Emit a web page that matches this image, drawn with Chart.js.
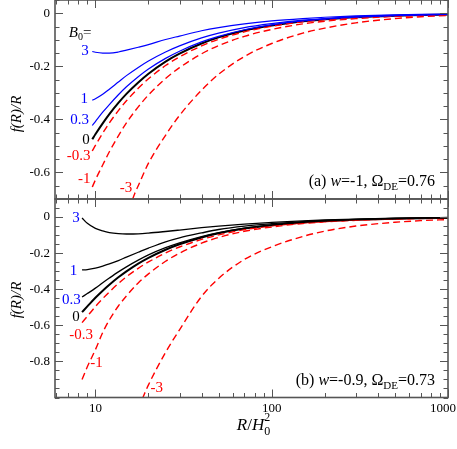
<!DOCTYPE html>
<html><head><meta charset="utf-8">
<script src="https://cdn.jsdelivr.net/npm/chart.js@4.4.1/dist/chart.umd.min.js"></script>
<style>
html,body{margin:0;padding:0;background:#fff;}
#wrap{position:relative;width:457px;height:449px;}
canvas{position:absolute;left:0;top:0;}
</style></head><body>
<div id="wrap"><canvas id="ca" width="457" height="449"></canvas><canvas id="cb" width="457" height="449"></canvas></div>
<script>
// ---------- data: panel (a) w=-1, Omega_DE=0.76 ----------
const rA = [9.6, 10, 11, 12, 13.5, 15, 17.5, 20, 25, 30, 40, 50, 70, 100, 150, 200, 300, 500, 700, 1000];
const aB3   = [-0.144,-0.147,-0.150,-0.150,-0.146,-0.139,-0.128,-0.118,-0.099,-0.086,-0.066,-0.054,-0.040,-0.029,-0.020,-0.015,-0.010,-0.0062,-0.0045,-0.0032];
const aB1   = [-0.328,-0.322,-0.305,-0.286,-0.259,-0.235,-0.204,-0.180,-0.146,-0.123,-0.093,-0.075,-0.054,-0.039,-0.026,-0.020,-0.013,-0.008,-0.0058,-0.0041];
const aB03  = [-0.423,-0.408,-0.373,-0.344,-0.307,-0.277,-0.239,-0.210,-0.170,-0.143,-0.108,-0.087,-0.062,-0.044,-0.029,-0.022,-0.0145,-0.0087,-0.0063,-0.0044];
const aB0   = [-0.475,-0.456,-0.415,-0.380,-0.338,-0.304,-0.261,-0.228,-0.182,-0.152,-0.114,-0.091,-0.065,-0.046,-0.030,-0.023,-0.015,-0.009,-0.0065,-0.0046];
const aBm03 = [-0.519,-0.498,-0.452,-0.413,-0.367,-0.330,-0.283,-0.247,-0.197,-0.164,-0.123,-0.098,-0.070,-0.049,-0.032,-0.024,-0.016,-0.0096,-0.0069,-0.0048];
const aBm1  = [-0.655,-0.628,-0.572,-0.522,-0.462,-0.413,-0.353,-0.308,-0.246,-0.205,-0.153,-0.122,-0.087,-0.061,-0.040,-0.030,-0.020,-0.012,-0.0085,-0.0060];
const rA3 = [15.5, 16.7, 17.5, 20, 25, 30, 40, 50, 70, 100, 150, 200, 300, 500, 700, 1000];
const aBm3  = [-0.74,-0.68,-0.65,-0.565,-0.46,-0.385,-0.29,-0.23,-0.163,-0.114,-0.075,-0.056,-0.036,-0.020,-0.013,-0.008];

// ---------- data: panel (b) w=-0.9, Omega_DE=0.73 ----------
const rB = [8.4, 9, 10, 11, 12, 13.5, 15, 17.5, 20, 25, 30, 40, 50, 70, 100, 150, 200, 300, 500, 700, 1000];
const bB3   = [-0.005,-0.035,-0.063,-0.077,-0.086,-0.092,-0.094,-0.093,-0.089,-0.080,-0.072,-0.059,-0.050,-0.039,-0.030,-0.021,-0.016,-0.011,-0.0065,-0.0045,-0.003];
const bB1   = [-0.293,-0.291,-0.283,-0.272,-0.260,-0.241,-0.222,-0.195,-0.172,-0.137,-0.115,-0.088,-0.069,-0.050,-0.037,-0.025,-0.019,-0.013,-0.008,-0.0057,-0.004];
const bB03  = [-0.443,-0.424,-0.394,-0.364,-0.338,-0.304,-0.276,-0.239,-0.210,-0.170,-0.143,-0.108,-0.087,-0.062,-0.044,-0.029,-0.022,-0.0145,-0.0087,-0.0062,-0.0044];
const bB0   = [-0.527,-0.495,-0.447,-0.408,-0.375,-0.334,-0.301,-0.258,-0.226,-0.181,-0.151,-0.113,-0.090,-0.064,-0.045,-0.030,-0.0225,-0.015,-0.009,-0.0064,-0.0045];
const bBm03 = [-0.585,-0.550,-0.496,-0.452,-0.415,-0.368,-0.331,-0.284,-0.249,-0.199,-0.166,-0.124,-0.099,-0.070,-0.049,-0.033,-0.025,-0.0165,-0.010,-0.007,-0.005];
const bBm1  = [-0.900,-0.830,-0.735,-0.640,-0.570,-0.493,-0.437,-0.365,-0.315,-0.245,-0.200,-0.145,-0.113,-0.079,-0.055,-0.036,-0.027,-0.018,-0.011,-0.0077,-0.0054];
const rB3 = [17.5, 18.6, 20, 25, 30, 40, 50, 70, 100, 150, 200, 300, 500, 700, 1000];
const bBm3  = [-1.065,-1.0,-0.93,-0.75,-0.625,-0.44,-0.34,-0.235,-0.165,-0.108,-0.078,-0.050,-0.029,-0.020,-0.014];

// ---------- ticks ----------
const xTickLabels = [10, 100, 1000];
const xMinorTicks = [6,7,8,9,20,30,40,50,60,70,80,90,200,300,400,500,600,700,800,900];
const yTicksA = [0, -0.2, -0.4, -0.6];
const yTicksB = [0, -0.2, -0.4, -0.6, -0.8];

// ---------- curve annotations (B0 values) ----------
const curveLabels = ['3', '1', '0.3', '0', '-0.3', '-1', '-3'];
const labRA = [9.16, 9.08, 9.2, 9.28, 9.37, 9.37, 16.2];
const labVA = [-0.144, -0.325, -0.403, -0.478, -0.538, -0.625, -0.659];
const labRB = [8.15, 7.9, 8.25, 8.15, 9.69, 11.0, 24.2];
const labVB = [-0.006, -0.297, -0.46, -0.552, -0.654, -0.81, -0.95];

const BLUE = '#0000ff', RED = '#ff0000', BLACK = '#000000', FRAME = '#555555';
const labColors = [BLUE, BLUE, BLUE, BLACK, RED, RED, RED];
const SERIF = '"Liberation Serif", "Times New Roman", serif';

function pts(rs, vs) { return rs.map((r, i) => ({x: r, y: vs[i]})); }
function ds(rs, vs, color, width, dashed) {
  return { data: pts(rs, vs), borderColor: color, borderWidth: width, borderDash: dashed ? [7, 4] : [],
           pointRadius: 0, fill: false, cubicInterpolationMode: 'monotone' };
}

// parts drawn left to right; a part with overlay:true is drawn at the start x of the previous part
function drawRich(ctx, parts, x, y, align) {
  let w = 0;
  parts.forEach(p => { ctx.font = p.font; p.w = ctx.measureText(p.t).width; if (!p.overlay) w += p.w; });
  let cx = align === 'right' ? x - w : (align === 'center' ? x - w / 2 : x);
  let prevX = cx;
  parts.forEach(p => {
    ctx.font = p.font; ctx.fillStyle = p.color || BLACK;
    if (p.overlay) {
      ctx.fillText(p.t, prevX, y + (p.dy || 0));
    } else {
      ctx.fillText(p.t, cx, y + (p.dy || 0));
      prevX = cx; cx += p.w;
    }
  });
}

function makePlugin(cfg) {
  return {
    id: 'deco' + cfg.id,
    afterDraw(chart) {
      const ctx = chart.ctx, a = chart.chartArea, xs = chart.scales.x, ys = chart.scales.y;
      ctx.save();
      ctx.strokeStyle = FRAME; ctx.lineWidth = 1;
      const line = (x1, y1, x2, y2) => { ctx.beginPath(); ctx.moveTo(x1, y1); ctx.lineTo(x2, y2); ctx.stroke(); };
      const XM = 8, XN = 4.5;
      xTickLabels.forEach(v => { const p = Math.round(xs.getPixelForValue(v)) + 0.5; line(p, a.top, p, a.top + XM); line(p, a.bottom, p, a.bottom - XM); });
      xMinorTicks.forEach(v => { const p = Math.round(xs.getPixelForValue(v)) + 0.5; line(p, a.top, p, a.top + XN); line(p, a.bottom, p, a.bottom - XN); });
      const yMaj = cfg.yTicks;
      for (let k = 0; k <= 40; k++) {
        const v = Math.round((cfg.ymax - k * 0.05) * 100) / 100;
        if (v < cfg.ymin - 1e-9) break;
        const p = Math.round(ys.getPixelForValue(v)) + 0.5;
        const isMaj = yMaj.some(m => Math.abs(m - v) < 1e-9);
        const L = isMaj ? XM : XN;
        line(a.left, p, a.left + L, p); line(a.right, p, a.right - L, p);
      }
      ctx.lineWidth = 1.6;
      ctx.strokeRect(a.left, a.top, a.right - a.left, a.bottom - a.top);

      ctx.textBaseline = 'middle';
      const F15 = '15px ' + SERIF;
      curveLabels.forEach((t, i) => {
        const px = xs.getPixelForValue(cfg.labR[i]), py = ys.getPixelForValue(cfg.labV[i]);
        drawRich(ctx, [{t: t, font: F15, color: labColors[i]}], px, py, 'right');
      });
      if (cfg.id === 'a') {
        drawRich(ctx, [{t: 'B', font: 'italic 15px ' + SERIF}, {t: '0', font: '10px ' + SERIF, dy: 4}, {t: '=', font: F15}],
                 xs.getPixelForValue(9.49), ys.getPixelForValue(-0.074), 'right');
      }
      // y title
      ctx.save();
      ctx.translate(17.5, cfg.yTitleY); ctx.rotate(-Math.PI / 2);
      ctx.textAlign = 'center'; ctx.fillStyle = BLACK; ctx.font = 'italic 15px ' + SERIF;
      ctx.fillText('f(R)/R', 0, 0);
      ctx.restore();
      // panel legend
      ctx.textBaseline = 'alphabetic';
      const F16 = '16px ' + SERIF;
      drawRich(ctx, [{t: cfg.tag + ' ', font: F16}, {t: 'w', font: 'italic 16px ' + SERIF}, {t: '=' + cfg.w + ', \u03A9', font: F16},
                     {t: 'DE', font: '11px ' + SERIF, dy: 4}, {t: '=' + cfg.om, font: F16}], 435, a.bottom - 13, 'right');
      if (cfg.id === 'b') {
        ctx.textBaseline = 'middle';
        ctx.font = '13px ' + SERIF; ctx.fillStyle = BLACK;
        xTickLabels.forEach(v => {
          const t = String(v); const w = ctx.measureText(t).width;
          let cx = xs.getPixelForValue(v);
          cx = Math.min(cx, chart.width - 1 - w / 2);
          ctx.textAlign = 'center'; ctx.fillText(t, cx, a.bottom + 11);
        });
        ctx.textAlign = 'left'; ctx.textBaseline = 'alphabetic';
        const cxm = (a.left + a.right) / 2;
        drawRich(ctx, [{t: 'R', font: 'italic 17px ' + SERIF}, {t: '/', font: '17px ' + SERIF}, {t: 'H', font: 'italic 17px ' + SERIF},
                       {t: '0', font: '12px ' + SERIF, dy: 5}, {t: '2', font: '12px ' + SERIF, dy: -9, overlay: true}],
                 cxm + 2, 430, 'center');
      }
      ctx.restore();
    }
  };
}

function baseOptions(ymin, ymax, yTicks, padTop, padBottom) {
  return {
    responsive: false, animation: false, devicePixelRatio: 1,
    layout: { padding: { top: padTop, bottom: padBottom, left: 0, right: 9 } },
    plugins: { legend: { display: false }, tooltip: { enabled: false } },
    elements: { line: { tension: 0 } },
    scales: {
      x: { type: 'logarithmic', min: 5.9, max: 1000, display: false },
      y: { type: 'linear', min: ymin, max: ymax, position: 'left',
           afterBuildTicks: s => { s.ticks = yTicks.map(v => ({ value: v })); },
           afterFit: s => { s.width = 55; s.paddingTop = 0; s.paddingBottom = 0; },
           ticks: { callback: v => String(v), font: { family: SERIF, size: 13 }, color: BLACK, padding: 5, autoSkip: false },
           grid: { display: false, drawTicks: false }, border: { display: false } }
    }
  };
}

new Chart(document.getElementById('ca'), {
  type: 'line',
  data: { datasets: [
    ds(rA, aB3, BLUE, 1.2, false), ds(rA, aB1, BLUE, 1.2, false), ds(rA, aB03, BLUE, 1.2, false),
    ds(rA, aBm03, RED, 1.4, true), ds(rA, aBm1, RED, 1.4, true), ds(rA3, aBm3, RED, 1.4, true),
    ds(rA, aB0, BLACK, 2, false)
  ]},
  options: baseOptions(-0.7, 0.05, yTicksA, 0, 250),
  plugins: [makePlugin({ id: 'a', ymin: -0.7, ymax: 0.05, yTicks: yTicksA, labR: labRA, labV: labVA, yTitleY: 114, tag: '(a)', w: '-1', om: '0.76' })]
});

new Chart(document.getElementById('cb'), {
  type: 'line',
  data: { datasets: [
    ds(rB, bB3, BLACK, 1.3, false), ds(rB, bB1, BLACK, 1.3, false), ds(rB, bB03, BLACK, 1.3, false),
    ds(rB, bBm03, RED, 1.4, true), ds(rB, bBm1, RED, 1.4, true), ds(rB3, bBm3, RED, 1.4, true),
    ds(rB, bB0, BLACK, 2, false)
  ]},
  options: baseOptions(-1.0, 0.1, yTicksB, 199, 51.5),
  plugins: [makePlugin({ id: 'b', ymin: -1.0, ymax: 0.1, yTicks: yTicksB, labR: labRB, labV: labVB, yTitleY: 300, tag: '(b)', w: '-0.9', om: '0.73' })]
});
</script>
</body></html>
